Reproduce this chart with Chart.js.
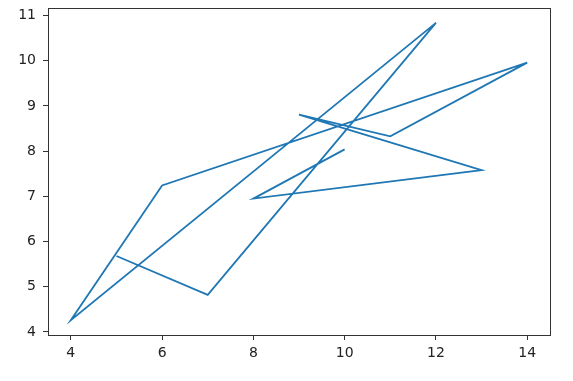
<!DOCTYPE html>
<html>
<head>
<meta charset="utf-8">
<script src="https://cdn.jsdelivr.net/npm/chart.js@4"></script>
<style>
  html, body { margin: 0; padding: 0; background: #fff; }
  #wrap { width: 573px; height: 381px; }
</style>
</head>
<body>
<div id="wrap"><canvas id="lineChart" width="573" height="381"></canvas></div>
<script>
// Data (points are joined in this order)
const xValues = [10, 8, 13, 9, 11, 14, 6, 4, 12, 7, 5];
const yValues = [8.04, 6.95, 7.58, 8.81, 8.33, 9.96, 7.24, 4.26, 10.84, 4.82, 5.68];
const xTicks = [4, 6, 8, 10, 12, 14];
const yTicks = [4, 5, 6, 7, 8, 9, 10, 11];

const axisColor = "#333333";
const tickFont = { family: "DejaVu Sans", size: 14 };

// draw the full box round the plot area
const frame = {
  id: "frame",
  afterDraw(chart) {
    const { ctx, chartArea: a } = chart;
    ctx.save();
    ctx.strokeStyle = axisColor;
    ctx.lineWidth = 1;
    ctx.strokeRect(a.left + 0.5, a.top + 0.5, a.right - a.left, a.bottom - a.top);
    ctx.restore();
  }
};

const ctx = document.getElementById("lineChart").getContext("2d");
new Chart(ctx, {
  type: "line",
  data: {
    datasets: [{
      data: xValues.map((x, i) => ({ x: x, y: yValues[i] })),
      borderColor: "#1f77b4",
      borderWidth: 1.8,
      pointRadius: 0,
      fill: false,
      tension: 0
    }]
  },
  options: {
    responsive: false,
    animation: false,
    layout: { padding: { top: 8, right: 23, left: 0, bottom: 0 } },
    plugins: { legend: { display: false }, tooltip: { enabled: false } },
    scales: {
      x: {
        type: "linear",
        min: 3.5,
        max: 14.5,
        afterBuildTicks: (s) => { s.ticks = xTicks.map(v => ({ value: v })); },
        afterFit: (s) => { s.height = 46; s.paddingLeft = 0; s.paddingRight = 0; },
        grid: { drawOnChartArea: false, tickLength: 5, color: axisColor },
        border: { color: axisColor },
        ticks: { color: "#222", font: tickFont, padding: 5, maxRotation: 0 }
      },
      y: {
        type: "linear",
        min: 3.931,
        max: 11.169,
        afterBuildTicks: (s) => { s.ticks = yTicks.map(v => ({ value: v })); },
        afterFit: (s) => { s.width = 48; s.paddingTop = 0; s.paddingBottom = 0; },
        grid: { drawOnChartArea: false, tickLength: 5, color: axisColor },
        border: { color: axisColor },
        ticks: { color: "#222", font: tickFont, padding: 7 }
      }
    }
  },
  plugins: [frame]
});
</script>
</body>
</html>
